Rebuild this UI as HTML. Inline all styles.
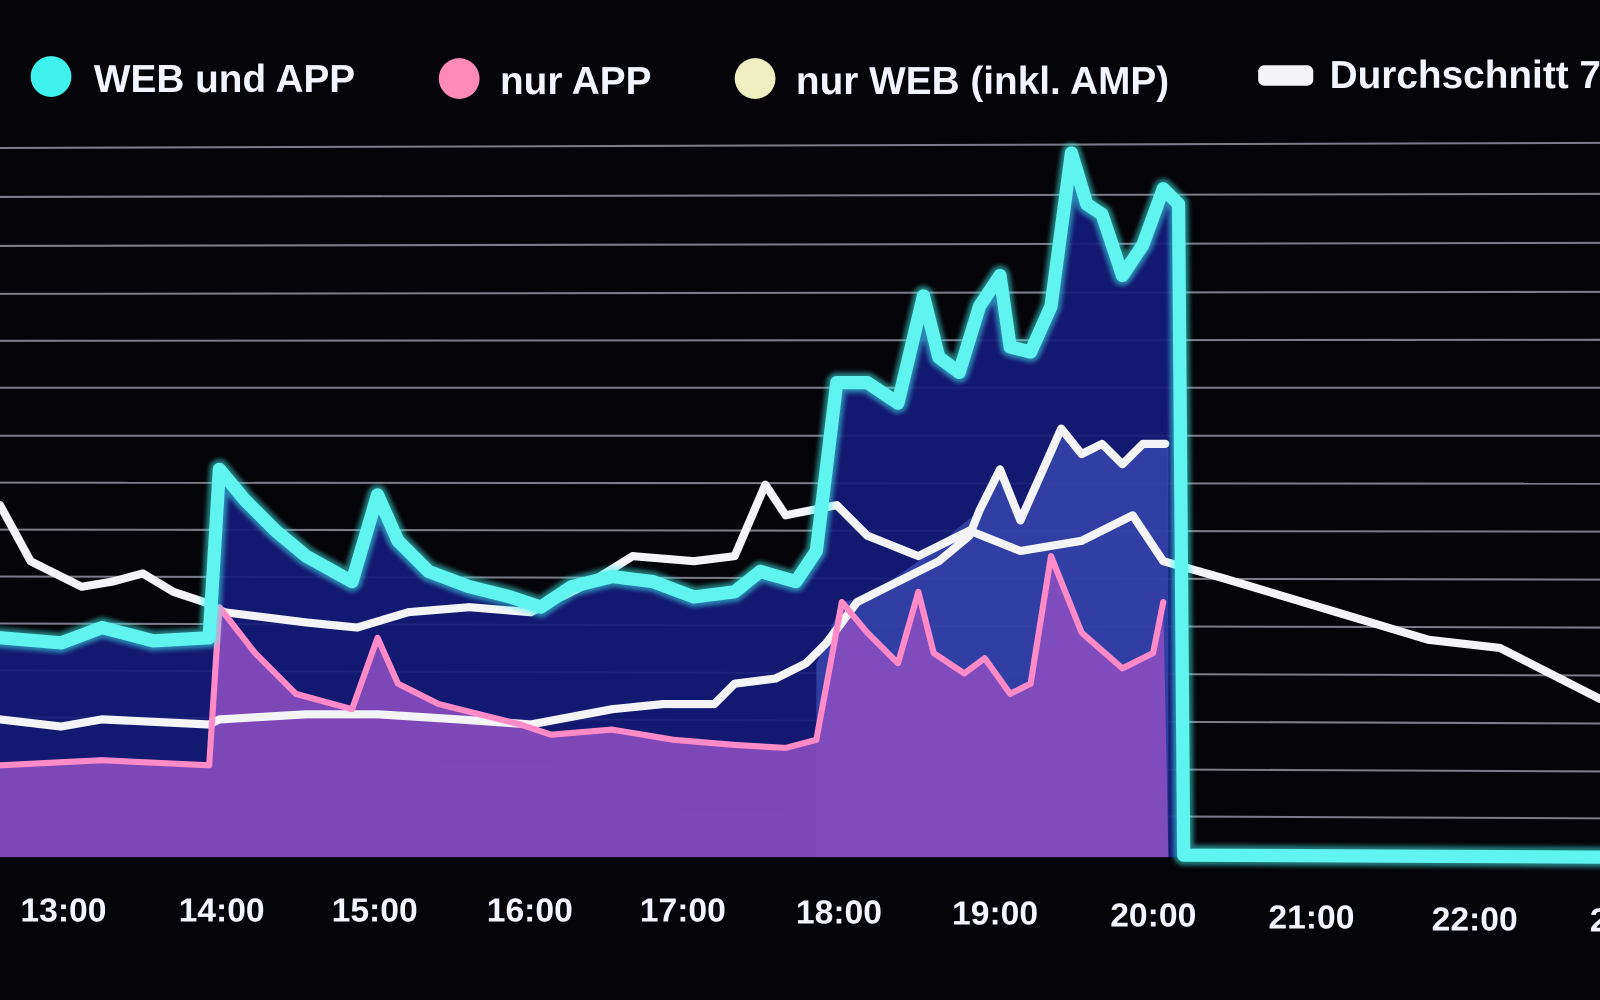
<!DOCTYPE html>
<html><head><meta charset="utf-8"><style>
html,body{margin:0;padding:0;background:#050408;}
svg{display:block}
text{font-family:"Liberation Sans",sans-serif;font-weight:bold;fill:#f2f4ff}
</style></head><body>
<svg width="1600" height="1000" viewBox="0 0 1568 980" preserveAspectRatio="none" xmlns="http://www.w3.org/2000/svg">
<defs>
<filter id="g" x="-5%" y="-5%" width="110%" height="110%"><feGaussianBlur stdDeviation="2"/></filter>
</defs>
<rect width="1568" height="980" fill="#050408"/>
<g stroke="#9a9aa8" stroke-width="2" opacity="0.8">
<line x1="0" y1="145" x2="1568" y2="140"/>
<line x1="0" y1="193" x2="1568" y2="190"/>
<line x1="0" y1="241" x2="1568" y2="238"/>
<line x1="0" y1="288" x2="1568" y2="286"/>
<line x1="0" y1="334" x2="1568" y2="333"/>
<line x1="0" y1="380" x2="1568" y2="380"/>
<line x1="0" y1="427" x2="1568" y2="427"/>
<line x1="0" y1="473" x2="1568" y2="474"/>
<line x1="0" y1="519" x2="1568" y2="521"/>
<line x1="0" y1="565" x2="1568" y2="568"/>
<line x1="0" y1="611" x2="1568" y2="615"/>
<line x1="0" y1="657" x2="1568" y2="662"/>
<line x1="0" y1="703" x2="1568" y2="709"/>
<line x1="0" y1="749" x2="1568" y2="756"/>
<line x1="0" y1="795" x2="1568" y2="802"/>
</g>
<polygon fill="#151a7a" opacity="0.92" points="0,625 60,630 100,615 150,628 205,625 215,460 240,490 270,520 300,545 345,570 370,485 390,530 420,560 460,575 500,585 530,595 560,575 600,565 640,570 680,585 720,580 745,560 780,570 800,540 820,375 850,375 880,395 905,290 920,350 940,365 960,300 980,270 990,340 1010,345 1030,300 1050,150 1065,200 1080,210 1100,270 1120,240 1140,185 1155,200 1160,840 0,840"/>
<polygon fill="#3a48b0" opacity="0.8" points="800,650 825,590 850,585 900,550 960,500 980,460 1000,510 1040,420 1060,445 1080,435 1100,455 1120,435 1145,435 1145,840 800,840"/>
<polygon fill="#8a4cc0" opacity="0.9" points="0,750 100,745 205,750 215,595 250,640 290,680 345,695 370,625 390,670 430,690 470,700 510,710 540,720 600,715 660,725 720,730 770,733 800,725 825,590 850,620 880,650 900,580 915,640 945,660 965,645 990,680 1010,670 1030,545 1060,620 1100,655 1130,640 1140,590 1145,840 0,840"/>
<g fill="none" stroke-linejoin="round" stroke-linecap="round">
<polyline stroke="#f4f4f8" stroke-width="8" points="0,495 30,550 80,575 110,570 140,562 170,580 200,590 220,600 300,610 350,615 400,600 460,595 520,600 580,570 620,545 680,550 720,545 750,475 770,505 820,495 850,525 900,545 950,520 1000,540 1060,530 1110,505 1140,550 1200,567 1300,597 1400,627 1470,635 1568,685"/>
<polyline stroke="#f4f4f8" stroke-width="8" points="0,705 60,712 100,705 205,710 215,705 300,700 370,700 450,705 520,710 600,695 650,690 700,690 720,670 760,665 790,650 810,630 840,590 880,570 920,550 950,525 960,500 980,460 1000,510 1040,420 1060,445 1080,435 1100,455 1120,435 1142,435"/>
<polyline stroke="#ff8ac8" stroke-width="6" points="0,750 100,745 205,750 215,595 250,640 290,680 345,695 370,625 390,670 430,690 470,700 510,710 540,720 600,715 660,725 720,730 770,733 800,725 825,590 850,620 880,650 900,580 915,640 945,660 965,645 990,680 1010,670 1030,545 1060,620 1100,655 1130,640 1140,590"/>
<polyline stroke="#40f0f0" stroke-width="20" opacity="0.5" filter="url(#g)" points="0,625 60,630 100,615 150,628 205,625 215,460 240,490 270,520 300,545 345,570 370,485 390,530 420,560 460,575 500,585 530,595 560,575 600,565 640,570 680,585 720,580 745,560 780,570 800,540 820,375 850,375 880,395 905,290 920,350 940,365 960,300 980,270 990,340 1010,345 1030,300 1050,150 1065,200 1080,210 1100,270 1120,240 1140,185 1155,200 1160,838 1568,840"/>
<polyline stroke="#5ff4f0" stroke-width="13" points="0,625 60,630 100,615 150,628 205,625 215,460 240,490 270,520 300,545 345,570 370,485 390,530 420,560 460,575 500,585 530,595 560,575 600,565 640,570 680,585 720,580 745,560 780,570 800,540 820,375 850,375 880,395 905,290 920,350 940,365 960,300 980,270 990,340 1010,345 1030,300 1050,150 1065,200 1080,210 1100,270 1120,240 1140,185 1155,200 1160,838 1568,840"/>
</g>
<circle cx="50" cy="75" r="20" fill="#40f2ee"/>
<text x="92" y="90" font-size="38">WEB und APP</text>
<circle cx="450" cy="77" r="20" fill="#ff8ab8"/>
<text x="490" y="92" font-size="38">nur APP</text>
<circle cx="740" cy="77" r="20" fill="#eeeec0"/>
<text x="780" y="92" font-size="38">nur WEB (inkl. AMP)</text>
<rect x="1233" y="64" width="54" height="20" rx="6" fill="#f4f4f8"/>
<text x="1303" y="86" font-size="38">Durchschnitt 7</text>
<g font-size="33">
<text x="20" y="903">13:00</text>
<text x="175" y="903">14:00</text>
<text x="325" y="903">15:00</text>
<text x="477" y="903">16:00</text>
<text x="627" y="903">17:00</text>
<text x="780" y="905">18:00</text>
<text x="933" y="906">19:00</text>
<text x="1088" y="908">20:00</text>
<text x="1243" y="910">21:00</text>
<text x="1403" y="912">22:00</text>
<text x="1558" y="913">2</text>
</g>
</svg>
</body></html>
